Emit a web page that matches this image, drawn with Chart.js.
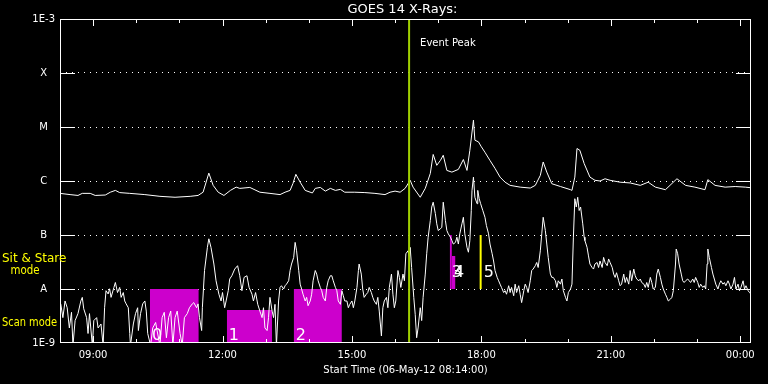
<!DOCTYPE html>
<html>
<head>
<meta charset="utf-8">
<title>GOES 14 X-Rays</title>
<script src="https://cdn.jsdelivr.net/npm/chart.js@4.4.1/dist/chart.umd.min.js"></script>
<style>
    html, body { margin: 0; padding: 0; background: #000; }
    #wrap { width: 768px; height: 384px; }
</style>
</head>
<body>
<div id="wrap"><canvas id="chart-goes" width="768" height="384"></canvas></div>
<script>
// Tiempos en minutos desde el inicio (06-May-12 08:14:00)
const xTickValues = [46, 226, 406, 586, 766, 946];
const xTickLabels = ["09:00", "12:00", "15:00", "18:00", "21:00", "00:00"];
const xMinorTicks = [106, 166, 286, 346, 466, 526, 646, 706, 826, 886];

const yTickValues = [1e-9, 1e-8, 1e-7, 1e-6, 1e-5, 1e-4, 1e-3];
const yTickLabels = ["1E-9", "A", "B", "C", "M", "X", "1E-3"];

// Canal largo (1-8 A)
const longTime = [
    0, 14, 25, 31, 42, 49, 63, 70, 77, 83,
    97, 118, 139, 160, 181, 192, 199, 207, 213, 220,
    228, 237, 245, 250, 264, 278, 292, 306, 313, 320,
    324, 328, 334, 341, 351, 355, 362, 369, 376, 383,
    390, 396, 410, 424, 438, 452, 459, 466, 473, 480,
    487, 491, 501, 508, 515, 519, 524, 529, 533, 538,
    545, 554, 561, 566, 570, 575, 577, 582, 586, 591,
    598, 605, 612, 619, 626, 640, 654, 661, 668, 672,
    677, 684, 696, 710, 712, 716, 719, 723, 729, 737,
    744, 751, 758, 765, 779, 793, 807, 818, 828, 842,
    858, 870, 883, 897, 901, 911, 925, 939, 953, 961,
];
const longFlux = [
    5.9e-7, 5.6e-7, 5.4e-7, 5.9e-7, 5.9e-7, 5.4e-7, 5.5e-7, 6.2e-7, 6.7e-7, 6.1e-7,
    5.9e-7, 5.6e-7, 5.2e-7, 5.0e-7, 5.2e-7, 5.4e-7, 6.2e-7, 1.4e-6, 8.3e-7, 6.2e-7,
    5.4e-7, 6.7e-7, 7.7e-7, 7.3e-7, 7.6e-7, 6.2e-7, 5.9e-7, 5.6e-7, 6.2e-7, 6.7e-7,
    9.0e-7, 1.33e-6, 9.5e-7, 6.7e-7, 6.0e-7, 7.3e-7, 7.6e-7, 6.5e-7, 7.3e-7, 6.7e-7,
    7.0e-7, 6.2e-7, 6.2e-7, 6.1e-7, 5.9e-7, 5.6e-7, 6.2e-7, 6.5e-7, 6.2e-7, 7.3e-7,
    1.03e-6, 7.7e-7, 5.0e-7, 7.3e-7, 1.38e-6, 3.1e-6, 1.95e-6, 2.4e-6, 3.0e-6, 1.57e-6,
    1.46e-6, 1.64e-6, 2.5e-6, 1.57e-6, 3.7e-6, 1.34e-5, 5.7e-6, 5.3e-6, 4.3e-6, 3.4e-6,
    2.4e-6, 1.71e-6, 1.18e-6, 9.5e-7, 8.3e-7, 7.7e-7, 7.4e-7, 8.3e-7, 1.27e-6, 2.25e-6,
    1.46e-6, 8.9e-7, 7.9e-7, 6.9e-7, 6.7e-7, 1.18e-6, 4.0e-6, 3.7e-6, 2.1e-6, 1.18e-6,
    1.03e-6, 1.0e-6, 1.1e-6, 1.03e-6, 9.5e-7, 9.2e-7, 8.3e-7, 9.5e-7, 7.7e-7, 6.9e-7,
    1.1e-6, 8.3e-7, 7.7e-7, 6.9e-7, 1.06e-6, 8.3e-7, 7.7e-7, 7.9e-7, 7.7e-7, 7.5e-7,
];

// Canal corto (0.5-4 A)
const shortTime = [
    1, 4, 7, 10, 13, 16, 18, 21, 25, 29,
    31, 33, 37, 39, 41, 45, 47, 51, 53, 57,
    60, 62, 64, 67, 69, 71, 75, 77, 80, 83,
    85, 88, 90, 92, 95, 97, 98, 102, 105, 108,
    109, 112, 115, 118, 120, 122, 126, 129, 133, 135,
    139, 142, 145, 148, 151, 154, 157, 160, 163, 167,
    170, 173, 177, 180, 184, 186, 190, 192, 194, 197,
    198, 201, 205, 207, 210, 214, 217, 221, 224, 226,
    229, 231, 234, 236, 239, 243, 247, 250, 253, 256,
    260, 263, 267, 269, 272, 275, 278, 281, 283, 285,
    288, 290, 292, 295, 297, 299, 301, 304, 306, 308,
    311, 313, 315, 318, 320, 322, 325, 327, 329, 332,
    334, 336, 338, 341, 343, 345, 348, 350, 352, 355,
    357, 359, 362, 364, 366, 369, 371, 373, 376, 378,
    380, 383, 385, 387, 390, 392, 394, 396, 399, 401,
    403, 406, 408, 410, 413, 415, 416, 419, 421, 423,
    426, 428, 430, 433, 435, 437, 440, 442, 444, 447,
    449, 451, 454, 456, 458, 461, 463, 465, 467, 470,
    472, 474, 477, 479, 481, 484, 486, 487, 489, 492,
    494, 496, 498, 501, 503, 505, 508, 510, 512, 515,
    517, 519, 522, 524, 526, 529, 531, 533, 536, 538,
    540, 543, 545, 547, 550, 552, 554, 556, 559, 561,
    563, 566, 568, 570, 572, 573, 575, 577, 580, 581,
    583, 585, 588, 591, 593, 596, 598, 601, 603, 605,
    608, 610, 612, 614, 617, 619, 621, 624, 626, 628,
    631, 633, 635, 638, 640, 642, 645, 647, 649, 651,
    654, 656, 658, 661, 663, 665, 668, 670, 672, 675,
    677, 679, 682, 684, 686, 689, 691, 693, 696, 698,
    700, 703, 705, 707, 710, 712, 714, 716, 718, 720,
    722, 724, 727, 729, 730, 733, 735, 737, 740, 742,
    744, 747, 749, 751, 754, 756, 758, 761, 763, 765,
    768, 770, 772, 774, 777, 779, 781, 784, 786, 788,
    791, 793, 795, 798, 800, 802, 805, 807, 809, 812,
    814, 816, 818, 821, 823, 825, 828, 830, 832, 835,
    837, 839, 842, 844, 846, 849, 851, 853, 856, 857,
    859, 861, 864, 866, 868, 870, 873, 875, 877, 880,
    882, 884, 887, 889, 891, 894, 896, 898, 900, 901,
    903, 906, 908, 910, 912, 915, 917, 919, 922, 924,
    926, 929, 931, 933, 936, 938, 940, 943, 945, 947,
    950, 952, 954, 957, 959, 961,
];
const shortFlux = [
    5.3e-9, 2.95e-9, 6.0e-9, 4.5e-9, 1.9e-9, 3.7e-9, 9e-10, 2.6e-9, 3.5e-9, 6.0e-9,
    7.0e-9, 4.3e-9, 2.95e-9, 1.5e-9, 3.5e-9, 9e-10, 2.6e-9, 2.95e-9, 1.9e-9, 2.25e-9,
    9e-10, 4.5e-9, 9.3e-9, 8.1e-9, 1.01e-8, 7.0e-9, 1.07e-8, 1.32e-8, 8.6e-9, 1.07e-8,
    7.0e-9, 8.6e-9, 6.0e-9, 5.3e-9, 4.5e-9, 1.5e-9, 9e-10, 2.25e-9, 3.5e-9, 4.5e-9,
    1.7e-9, 3.5e-9, 5.3e-9, 6.0e-9, 3.9e-9, 1.5e-9, 9e-10, 1.9e-9, 2.4e-9, 1.7e-9,
    9e-10, 2.95e-9, 3.7e-9, 1.25e-9, 2.95e-9, 3.9e-9, 9e-10, 2.95e-9, 3.9e-9, 1.5e-9,
    9e-10, 2.95e-9, 3.5e-9, 4.5e-9, 5.3e-9, 5.6e-9, 4.5e-9, 5.3e-9, 2.95e-9, 1.7e-9,
    4.5e-9, 2.2e-8, 5.9e-8, 8.5e-8, 5.9e-8, 2.9e-8, 1.42e-8, 8.0e-9, 6.0e-9, 8.6e-9,
    4.5e-9, 6.0e-9, 9.3e-9, 1.53e-8, 1.76e-8, 2.34e-8, 2.7e-8, 1.76e-8, 9.3e-9, 1.64e-8,
    1.76e-8, 1.07e-8, 8.0e-9, 6.0e-9, 8.6e-9, 5.2e-9, 3.9e-9, 2.95e-9, 4.5e-9, 1.9e-9,
    1.7e-9, 2.95e-9, 7.0e-9, 3.9e-9, 2.95e-9, 5.2e-9, 9e-10, 6.0e-9, 1.07e-8, 1.15e-8,
    1.0e-8, 1.15e-8, 1.23e-8, 1.42e-8, 2.2e-8, 2.9e-8, 3.85e-8, 7.3e-8, 5.1e-8, 2.2e-8,
    1.23e-8, 1.0e-8, 8.0e-9, 6.0e-9, 7.0e-9, 4.9e-9, 6.0e-9, 8.0e-9, 1.42e-8, 2.2e-8,
    1.89e-8, 1.42e-8, 1.07e-8, 9.3e-9, 7.0e-9, 6.0e-9, 1.07e-8, 1.42e-8, 1.76e-8, 1.76e-8,
    1.42e-8, 1.07e-8, 9.3e-9, 6.0e-9, 5.2e-9, 9.3e-9, 7.5e-9, 6.0e-9, 6.0e-9, 4.5e-9,
    5.2e-9, 6.0e-9, 4.5e-9, 6.0e-9, 1.07e-8, 2.2e-8, 2.9e-8, 1.89e-8, 1.0e-8, 7.0e-9,
    8.0e-9, 8.6e-9, 1.07e-8, 8.6e-9, 7.0e-9, 6.0e-9, 5.2e-9, 7.0e-9, 3.9e-9, 1.35e-9,
    4.5e-9, 6.0e-9, 7.0e-9, 4.5e-9, 1.07e-8, 1.89e-8, 8.0e-9, 4.5e-9, 6.0e-9, 2.2e-8,
    1.64e-8, 1.07e-8, 1.89e-8, 1.42e-8, 4.5e-8, 5.1e-8, 3.85e-8, 5.9e-8, 2.5e-8, 7.0e-9,
    3.4e-9, 1.25e-9, 1.9e-9, 4.5e-9, 2.6e-9, 7.0e-9, 1.89e-8, 4.5e-8, 9.1e-8, 1.85e-7,
    3.3e-7, 4.05e-7, 2.5e-7, 1.61e-7, 1.21e-7, 1.3e-7, 1.39e-7, 4.05e-7, 1.85e-7, 1.21e-7,
    1.05e-7, 9.1e-8, 7.9e-8, 6.8e-8, 7.3e-8, 9.1e-8, 6.8e-8, 1.05e-7, 1.61e-7, 2.13e-7,
    1.05e-7, 5.9e-8, 4.8e-8, 7.9e-8, 2.84e-7, 6.7e-7, 1.18e-6, 5.0e-7, 3.8e-7, 6.7e-7,
    4.7e-7, 3.8e-7, 2.84e-7, 2.13e-7, 1.5e-7, 1.05e-7, 6.8e-8, 4.5e-8, 3.3e-8, 2.2e-8,
    1.64e-8, 1.42e-8, 1.23e-8, 1.07e-8, 8.6e-9, 9.3e-9, 8.0e-9, 1.15e-8, 8.6e-9, 1.07e-8,
    7.5e-9, 1.23e-8, 8.6e-9, 1.15e-8, 8.0e-9, 5.6e-9, 9.3e-9, 1.23e-8, 1.07e-8, 8.6e-9,
    1.42e-8, 2.2e-8, 2.34e-8, 2.7e-8, 3.1e-8, 2.5e-8, 5.1e-8, 1.05e-7, 2.13e-7, 1.21e-7,
    6.8e-8, 3.85e-8, 1.89e-8, 1.64e-8, 1.64e-8, 1.42e-8, 1.07e-8, 1.42e-8, 1.23e-8, 1.53e-8,
    9.3e-9, 7.0e-9, 6.0e-9, 8.6e-9, 1.0e-8, 1.23e-8, 9.1e-8, 4.7e-7, 3.3e-7, 5.0e-7,
    2.84e-7, 3.3e-7, 1.61e-7, 9.1e-8, 7.9e-8, 5.9e-8, 4.1e-8, 2.9e-8, 2.5e-8, 2.34e-8,
    2.9e-8, 3.1e-8, 2.5e-8, 3.3e-8, 2.5e-8, 3.85e-8, 3.1e-8, 2.7e-8, 3.6e-8, 3.1e-8,
    2.5e-8, 1.89e-8, 1.64e-8, 2.0e-8, 1.42e-8, 1.15e-8, 1.23e-8, 1.89e-8, 1.32e-8, 1.64e-8,
    1.23e-8, 2.2e-8, 1.42e-8, 2.34e-8, 1.76e-8, 1.53e-8, 1.42e-8, 1.53e-8, 1.32e-8, 1.23e-8,
    1.07e-8, 1.32e-8, 1.07e-8, 1.64e-8, 1.32e-8, 1.0e-8, 1.07e-8, 1.89e-8, 2.34e-8, 1.64e-8,
    1.23e-8, 1.0e-8, 8.0e-9, 7.0e-9, 6.0e-9, 6.5e-9, 7.0e-9, 9.3e-9, 2.9e-8, 5.5e-8,
    4.5e-8, 2.9e-8, 1.89e-8, 1.42e-8, 1.32e-8, 1.42e-8, 1.53e-8, 1.42e-8, 1.32e-8, 1.53e-8,
    1.32e-8, 1.64e-8, 1.32e-8, 1.07e-8, 1.23e-8, 1.07e-8, 1.15e-8, 1.0e-8, 2.9e-8, 5.5e-8,
    3.85e-8, 2.5e-8, 1.89e-8, 1.53e-8, 1.23e-8, 1.0e-8, 1.23e-8, 1.42e-8, 1.23e-8, 1.32e-8,
    1.15e-8, 1.42e-8, 1.23e-8, 1.0e-8, 1.23e-8, 1.64e-8, 1.0e-8, 1.23e-8, 9.3e-9, 1.07e-8,
    1.42e-8, 1.0e-8, 1.15e-8, 9.3e-9, 8.6e-9, 8.0e-9,
];

// Bloques de observación (modo scan / sit & stare)
const blockNames = ["0", "1", "2", "3", "4"];
const blockStart = [125, 232, 325, 542, 545];
const blockEnd = [193, 295, 392, 545, 550];
const blockBottom = [1e-9, 1e-9, 1e-9, 1e-8, 1e-8];
const blockTop = [1e-8, 4.1e-9, 1e-8, 1e-7, 4.1e-8];

const stareName = "5";
const stareTime = 585;
const stareLow = 1e-8;
const stareHigh = 1e-7;

const eventPeakTime = 485.5;

const FONT = "DejaVu Sans";
const MAGENTA = "#cc00cc";

const toPoints = (time, flux) => time.map((t, i) => ({ x: t, y: flux[i] }));

const blockDatasets = blockNames.map((name, i) => ({
    label: "Bloque " + name,
    data: [
        { x: blockStart[i], y: blockTop[i] },
        { x: blockEnd[i], y: blockTop[i] },
    ],
    borderColor: "rgba(0,0,0,0)",
    borderWidth: 1,
    backgroundColor: MAGENTA,
    fill: { value: blockBottom[i] },
    pointRadius: 0,
    order: 3,
}));

// Marcas, rejilla sólida y textos
const goesDecor = {
    id: "goesDecor",
    beforeDraw(chart) {
        const { ctx, width, height } = chart;
        ctx.save();
        ctx.fillStyle = "#000";
        ctx.fillRect(0, 0, width, height);
        ctx.restore();
    },
    afterDatasetsDraw(chart) {
        const { ctx, chartArea: a } = chart;
        const x = chart.scales.x;
        const y = chart.scales.y;
        ctx.save();
        ctx.strokeStyle = "#fff";
        ctx.lineWidth = 1;
        ctx.setLineDash([]);
        ctx.strokeRect(a.left + 0.5, a.top + 0.5, a.right - a.left - 1, a.bottom - a.top - 1);

        const hourTick = (v, len) => {
            const px = Math.round(x.getPixelForValue(v)) + 0.5;
            ctx.beginPath();
            ctx.moveTo(px, a.bottom);
            ctx.lineTo(px, a.bottom - len);
            ctx.moveTo(px, a.top);
            ctx.lineTo(px, a.top + len);
            ctx.stroke();
        };
        xTickValues.forEach((v) => hourTick(v, 7));
        xMinorTicks.forEach((v) => hourTick(v, 4));

        yTickValues.slice(1, -1).forEach((v) => {
            const py = Math.round(y.getPixelForValue(v)) + 0.5;
            ctx.beginPath();
            ctx.moveTo(a.left, py);
            ctx.lineTo(a.left + 15, py);
            ctx.moveTo(a.right - 15, py);
            ctx.lineTo(a.right, py);
            ctx.stroke();
        });

        ctx.fillStyle = "#fff";
        ctx.textBaseline = "middle";
        ctx.textAlign = "center";
        ctx.font = "13px " + FONT;
        ctx.fillText("GOES 14 X-Rays:", (a.left + a.right) / 2 - 3, 10, 110);

        ctx.textAlign = "left";
        ctx.font = "10px " + FONT;
        ctx.fillText("Event Peak", x.getPixelForValue(eventPeakTime) + 11, a.top + 24);

        // Etiquetas de los bloques
        ctx.textBaseline = "alphabetic";
        ctx.font = "16px " + FONT;
        blockNames.forEach((name, i) => {
            const lift = blockBottom[i] > yTickValues[0] ? 12 : 3;
            ctx.fillText(name, x.getPixelForValue(blockStart[i]) + 2, y.getPixelForValue(blockBottom[i]) - lift);
        });
        ctx.fillText(stareName, x.getPixelForValue(stareTime) + 3, y.getPixelForValue(stareLow) - 12);

        // Modos a la izquierda
        ctx.fillStyle = "#ffff00";
        ctx.textBaseline = "middle";
        ctx.font = "12px " + FONT;
        const stareMid = (y.getPixelForValue(1e-8) + y.getPixelForValue(1e-7)) / 2;
        const scanMid = (y.getPixelForValue(1e-9) + y.getPixelForValue(1e-8)) / 2;
        ctx.fillText("Sit & Stare", 2, stareMid - 3, 65);
        ctx.textAlign = "center";
        ctx.fillText("mode", 25, stareMid + 9, 29);
        ctx.textAlign = "left";
        ctx.fillText("Scan mode", 2, scanMid + 7, 55);
        ctx.restore();
    },
};

new Chart(document.getElementById("chart-goes"), {
    type: "line",
    data: {
        datasets: [
            ...blockDatasets,
            {
                label: "0.5-4 A",
                data: toPoints(shortTime, shortFlux),
                borderColor: "#fff",
                borderWidth: 1,
                pointRadius: 0,
                tension: 0,
                fill: false,
                order: 2,
            },
            {
                label: "1-8 A",
                data: toPoints(longTime, longFlux),
                borderColor: "#fff",
                borderWidth: 1,
                pointRadius: 0,
                tension: 0,
                fill: false,
                order: 2,
            },
            {
                label: stareName,
                data: [
                    { x: stareTime, y: stareLow },
                    { x: stareTime, y: stareHigh },
                ],
                borderColor: "#ffff00",
                borderWidth: 2,
                pointRadius: 0,
                fill: false,
                order: 1,
            },
            {
                label: "Event Peak",
                data: [
                    { x: eventPeakTime, y: yTickValues[0] },
                    { x: eventPeakTime, y: yTickValues[yTickValues.length - 1] },
                ],
                borderColor: "#a0d000",
                borderWidth: 2,
                pointRadius: 0,
                fill: false,
                order: 1,
            },
        ],
    },
    options: {
        responsive: false,
        animation: false,
        layout: {
            padding: { top: 19, right: 17, bottom: 0, left: 0 },
        },
        plugins: {
            legend: { display: false },
            tooltip: { enabled: false },
        },
        scales: {
            x: {
                type: "linear",
                min: 0,
                max: 961,
                afterBuildTicks: (scale) => {
                    scale.ticks = xTickValues.map((v) => ({ value: v }));
                },
                afterFit: (scale) => {
                    scale.height = 41;
                },
                grid: { display: false, drawTicks: false },
                border: { display: false },
                ticks: {
                    color: "#fff",
                    padding: 6,
                    autoSkip: false,
                    maxRotation: 0,
                    font: { family: FONT, size: 10 },
                    callback: (value, index) => xTickLabels[index],
                },
                title: {
                    display: true,
                    text: "Start Time (06-May-12 08:14:00)",
                    color: "#fff",
                    font: { family: FONT, size: 10 },
                    padding: { top: 0, bottom: 8 },
                },
            },
            y: {
                type: "logarithmic",
                min: 1e-9,
                max: 1e-3,
                afterBuildTicks: (scale) => {
                    scale.ticks = yTickValues.map((v) => ({ value: v }));
                },
                afterFit: (scale) => {
                    scale.width = 60;
                },
                grid: {
                    drawTicks: false,
                    lineWidth: 1,
                    color: (ctx) => {
                        const v = ctx.tick ? ctx.tick.value : null;
                        return v === yTickValues[0] || v === yTickValues[yTickValues.length - 1]
                            ? "rgba(0,0,0,0)"
                            : "#fff";
                    },
                },
                border: { display: false, dash: [1, 5] },
                ticks: {
                    color: "#fff",
                    padding: 5,
                    crossAlign: "center",
                    font: { family: FONT, size: 10 },
                    callback: (value, index) => yTickLabels[index],
                },
            },
        },
    },
    plugins: [goesDecor],
});
</script>
</body>
</html>
